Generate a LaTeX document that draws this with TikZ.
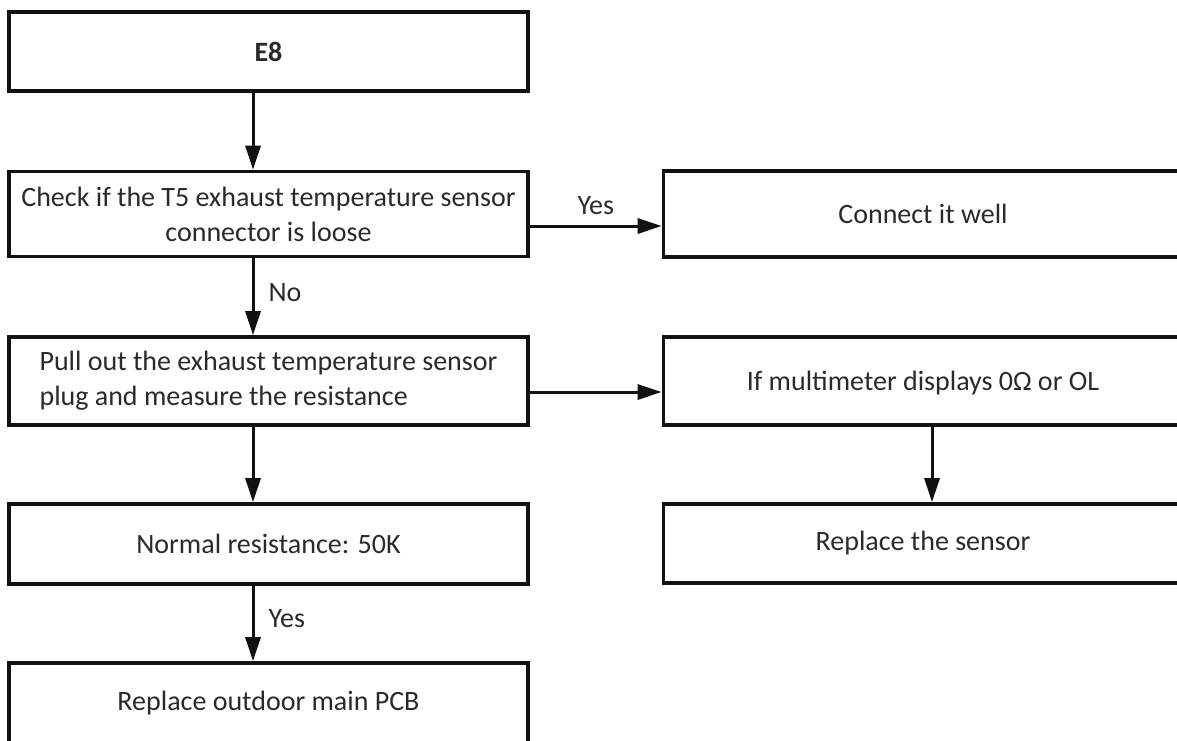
\documentclass[tikz,border=0pt]{standalone}
\usepackage{fontspec}
\setmainfont{Carlito}
\usetikzlibrary{arrows.meta}
\definecolor{ChartInk}{HTML}{111111}
\definecolor{ChartText}{HTML}{2A2A2A}

\begin{document}
\begin{tikzpicture}[x=0.5pt,y=-0.5pt,>={Triangle[length=12pt,width=7.5pt]},
  box/.style={draw=ChartInk,line width=1.8pt,fill=white,minimum width=259.5pt,
    minimum height=40pt,inner sep=0pt,text=ChartText,
    font=\fontsize{14}{17.5}\selectfont},
  flow/.style={->,draw=ChartInk,line width=1.5pt},
  tag/.style={text=ChartText,inner sep=0pt,font=\fontsize{14}{17}\selectfont}]
  \useasboundingbox (0,0) rectangle (1177,740);
  \clip (0,0) rectangle (1177,740);
  % columns and rows the connectors run on
  \coordinate (spine) at (253,0);
  \coordinate (branch) at (932,0);
  \coordinate (rowcheck) at (0,226);
  \coordinate (rowpull) at (0,392);
  % left column
  \node[box,minimum height=39.5pt,font=\fontsize{14}{17.5}\selectfont\bfseries]
    (e8) at (268.5,51.5) {E8};
  \node[box,minimum height=42.5pt,align=center] (check) at (268.5,214)
    {Check if the T5 exhaust temperature sensor\\connector is loose};
  \node[box,minimum height=44pt,align=left] (pull) at (268.5,381)
    {Pull out the exhaust temperature sensor\\plug and measure the resistance};
  \node[box] (normal) at (268.5,544) {Normal resistance: 50K};
  \node[box] (pcb) at (268.5,703) {Replace outdoor main PCB};
  % right column
  \node[box,minimum height=43pt] (connect) at (923,214) {Connect it well};
  \node[box,minimum height=44pt,text depth=-4pt] (meter) at (923,381)
    {If multimeter displays 0Ω or OL};
  \node[box,minimum height=39.5pt] (sensor) at (923,543.5) {Replace the sensor};
  % connectors
  \draw[flow] (e8.south -| spine) -- (check.north -| spine);
  \draw[flow] (check.east |- rowcheck) -- node[tag,above=5pt]{Yes}
    (connect.west |- rowcheck);
  \draw[flow] (check.south -| spine) -- node[tag,pos=0.45,anchor=west,xshift=7pt]{No}
    (pull.north -| spine);
  \draw[flow] (pull.east |- rowpull) -- (meter.west |- rowpull);
  \draw[flow] (pull.south -| spine) -- (normal.north -| spine);
  \draw[flow] (meter.south -| branch) -- (sensor.north -| branch);
  \draw[flow] (normal.south -| spine) -- node[tag,pos=0.43,anchor=west,xshift=7pt]{Yes}
    (pcb.north -| spine);
\end{tikzpicture}
\end{document}
